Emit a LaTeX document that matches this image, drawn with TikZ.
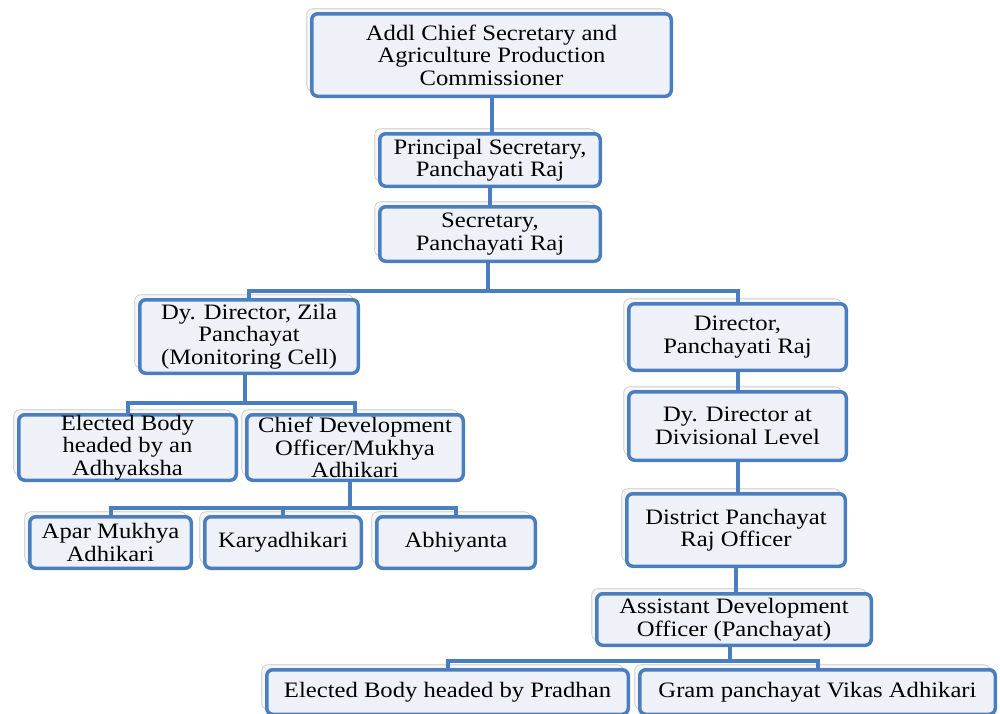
\documentclass[tikz,border=0pt]{standalone}
\usepackage{fontspec}
\setmainfont{Liberation Serif}[FakeStretch=1.12]
\usetikzlibrary{shadows}
\definecolor{bord}{HTML}{4A7EBF}
\definecolor{boxfill}{HTML}{EEF2F8}
\begin{document}
\begin{tikzpicture}[x=1pt,y=-1pt,
  orgbox/.style={draw=bord, line width=3.5pt, fill=boxfill, rounded corners=6pt,
    inner sep=0pt, align=center, text=black,
    font=\fontsize{22}{22.5}\selectfont,
    general shadow={fill=gray!7, draw=gray!45, line width=0.6pt,
      shadow xshift=-5pt, shadow yshift=5pt}},
  link/.style={draw=bord, line width=4pt}]
\useasboundingbox (0,0) rectangle (1000,713);

\node[orgbox, minimum width=359.5pt, minimum height=82.5pt] (A) at (491.5,55)
  {Addl Chief Secretary and\\Agriculture Production\\Commissioner};
\node[orgbox, minimum width=220.5pt, minimum height=52.5pt] (B) at (490,160)
  {Principal Secretary,\\Panchayati Raj};
\node[orgbox, minimum width=220.5pt, minimum height=54.5pt] (C) at (490,234)
  {Secretary,\\Panchayati Raj};
\node[orgbox, minimum width=218.5pt, minimum height=73.5pt] (D) at (249,336.5)
  {Dy. Director, Zila\\Panchayat\\(Monitoring Cell)};
\node[orgbox, minimum width=217.5pt, minimum height=66.5pt] (E) at (737.5,337)
  {Director,\\Panchayati Raj};
\node[orgbox, minimum width=217.5pt, minimum height=68.5pt] (F) at (737.5,426)
  {Dy. Director at\\Divisional Level};
\node[orgbox, minimum width=218.5pt, minimum height=72.5pt] (G) at (736,530)
  {District Panchayat\\Raj Officer};
\node[orgbox, minimum width=274.5pt, minimum height=51.5pt] (H) at (734,619.5)
  {Assistant Development\\Officer (Panchayat)};
\node[orgbox, minimum width=217.5pt, minimum height=65.5pt] (I) at (127.5,447.5)
  {Elected Body\\headed by an\\Adhyaksha};
\node[orgbox, minimum width=216.5pt, minimum height=65.5pt] (J) at (355,447.5)
  {Chief Development\\Officer/Mukhya\\Adhikari};
\node[orgbox, minimum width=161.5pt, minimum height=51.5pt] (K) at (110.5,542.5)
  {Apar Mukhya\\Adhikari};
\node[orgbox, minimum width=156.5pt, minimum height=51.5pt] (L) at (283,542.5)
  {Karyadhikari};
\node[orgbox, minimum width=158.5pt, minimum height=51.5pt] (M) at (456,542.5)
  {Abhiyanta};
\node[orgbox, minimum width=361.5pt, minimum height=44.5pt] (N) at (447.5,692)
  {Elected Body headed by Pradhan};
\node[orgbox, minimum width=355.5pt, minimum height=44.5pt] (O) at (817.5,692)
  {Gram panchayat Vikas Adhikari};

\coordinate (busC) at (488,291);
\coordinate (busD) at (245,403);
\coordinate (busJ) at (350,508);
\coordinate (busH) at (730,661);

\draw[link] (A.south) -- (A.south |- B.north);
\draw[link] (B.south) -- (B.south |- C.north);
\draw[link] (C.south -| busC) -- (busC);
\draw[link] (D.north) |- (busC) -| (E.north);
\draw[link] (E.south) -- (E.south |- F.north);
\draw[link] (F.south) -- (F.south |- G.north);
\draw[link] (G.south) -- (G.south |- H.north);
\draw[link] (D.south -| busD) -- (busD);
\draw[link] (I.north) |- (busD) -| (J.north);
\draw[link] (J.south -| busJ) -- (busJ);
\draw[link] (K.north) |- (busJ) -| (M.north);
\draw[link] (L.north) -- (L.north |- busJ);
\draw[link] (H.south -| busH) -- (busH);
\draw[link] (N.north) |- (busH) -| (O.north);
\end{tikzpicture}
\end{document}
